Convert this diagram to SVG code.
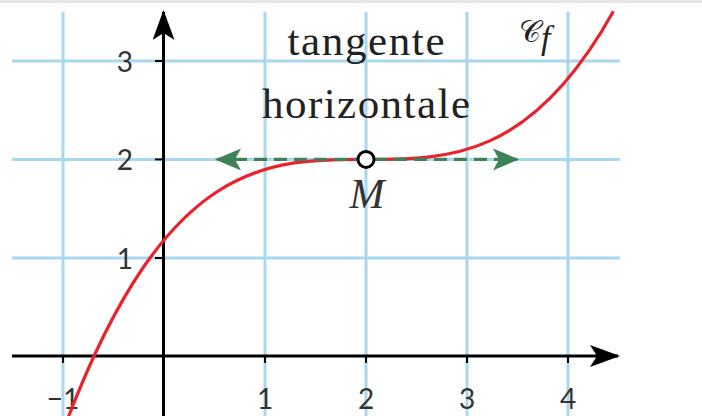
<svg xmlns="http://www.w3.org/2000/svg" width="702" height="416" viewBox="0 0 702 416">
  <defs>
    <style>
      .grid { stroke: #a8d8ef; stroke-width: 3; fill: none; }
      .axis { stroke: #000; stroke-width: 3; fill: none; }
      .tick { stroke: #000; stroke-width: 2; }
      .num { font-family: Lato, "Liberation Sans", sans-serif; font-size: 28px; fill: #333; }
      .big { font-family: "Liberation Serif", serif; font-size: 43px; fill: #222; }
    </style>
    <marker id="axArrow" viewBox="0 0 30 22" refX="28" refY="11" markerWidth="30" markerHeight="22" markerUnits="userSpaceOnUse" orient="auto">
      <path d="M0,0 L30,11 L0,22 L7,11 Z" fill="#000"/>
    </marker>
    <marker id="gArrow" viewBox="0 0 26 22" refX="24" refY="11" markerWidth="26" markerHeight="22" markerUnits="userSpaceOnUse" orient="auto-start-reverse">
      <path d="M0,0 L26,11 L0,22 L6,11 Z" fill="#3d8259"/>
    </marker>
  </defs>
  <rect x="0" y="0" width="702" height="416" fill="#fff"/>
  <rect x="0" y="0" width="702" height="3" fill="#e6e6e6"/>

  <g id="grid">
    <line class="grid" x1="63" y1="12" x2="63" y2="416"/>
    <line class="grid" x1="265" y1="12" x2="265" y2="416"/>
    <line class="grid" x1="366" y1="12" x2="366" y2="416"/>
    <line class="grid" x1="467" y1="12" x2="467" y2="416"/>
    <line class="grid" x1="568" y1="12" x2="568" y2="416"/>
    <line class="grid" x1="12" y1="61" x2="620" y2="61"/>
    <line class="grid" x1="12" y1="159.4" x2="620" y2="159.4"/>
    <line class="grid" x1="12" y1="258" x2="620" y2="258"/>
  </g>

  <g id="axes">
    <line class="axis" x1="12" y1="356" x2="618" y2="356" marker-end="url(#axArrow)"/>
    <line class="axis" x1="163.5" y1="416" x2="163.5" y2="12" marker-end="url(#axArrow)"/>
    <g id="ticks">
      <line class="tick" x1="155" y1="61" x2="163" y2="61"/>
      <line class="tick" x1="155" y1="159.4" x2="163" y2="159.4"/>
      <line class="tick" x1="155" y1="258" x2="163" y2="258"/>
      <line class="tick" x1="63" y1="356" x2="63" y2="363"/>
      <line class="tick" x1="265" y1="356" x2="265" y2="363"/>
      <line class="tick" x1="366" y1="356" x2="366" y2="363"/>
      <line class="tick" x1="467" y1="356" x2="467" y2="363"/>
      <line class="tick" x1="568" y1="356" x2="568" y2="363"/>
    </g>
  </g>

  <g id="tick-labels">
    <text class="num" x="133" y="72" text-anchor="end">3</text>
    <text class="num" x="133" y="170" text-anchor="end">2</text>
    <text class="num" x="133" y="269" text-anchor="end">1</text>
    <text class="num" x="63" y="409" text-anchor="middle">−1</text>
    <text class="num" x="265" y="409" text-anchor="middle">1</text>
    <text class="num" x="366" y="409" text-anchor="middle">2</text>
    <text class="num" x="467" y="409" text-anchor="middle">3</text>
    <text class="num" x="568" y="409" text-anchor="middle">4</text>
  </g>

  <g id="curve">
    <path d="M68,418 C167.4,159.4 266.7,159.4 366,159.4 C448.5,159.4 531,159.4 613.4,11.2" fill="none" stroke="#e8232b" stroke-width="3.2"/>
  </g>

  <g id="connectors">
    <line id="tangent" x1="217" y1="159.4" x2="517" y2="159.4" stroke="#3d8259" stroke-width="3.2" stroke-dasharray="13 7" stroke-dashoffset="3" marker-start="url(#gArrow)" marker-end="url(#gArrow)"/>
  </g>

  <g id="point-M">
    <circle cx="366" cy="159.4" r="8" fill="#fff" stroke="#000" stroke-width="3"/>
    <text x="367" y="208" text-anchor="middle" font-family="Liberation Serif, serif" font-style="italic" font-size="42" fill="#333">M</text>
  </g>

  <g id="label-tangente">
    <text class="big" x="366" y="55" text-anchor="middle" textLength="157">tangente</text>
    <text class="big" x="366" y="118" text-anchor="middle" textLength="208">horizontale</text>
  </g>

  <g id="label-Cf">
    <text x="519" y="42" font-family="DejaVu Serif, Noto Sans, serif" font-size="30" fill="#222">𝒞<tspan font-family="Liberation Serif, serif" font-style="italic" font-size="34" dy="7">f</tspan></text>
  </g>
</svg>
